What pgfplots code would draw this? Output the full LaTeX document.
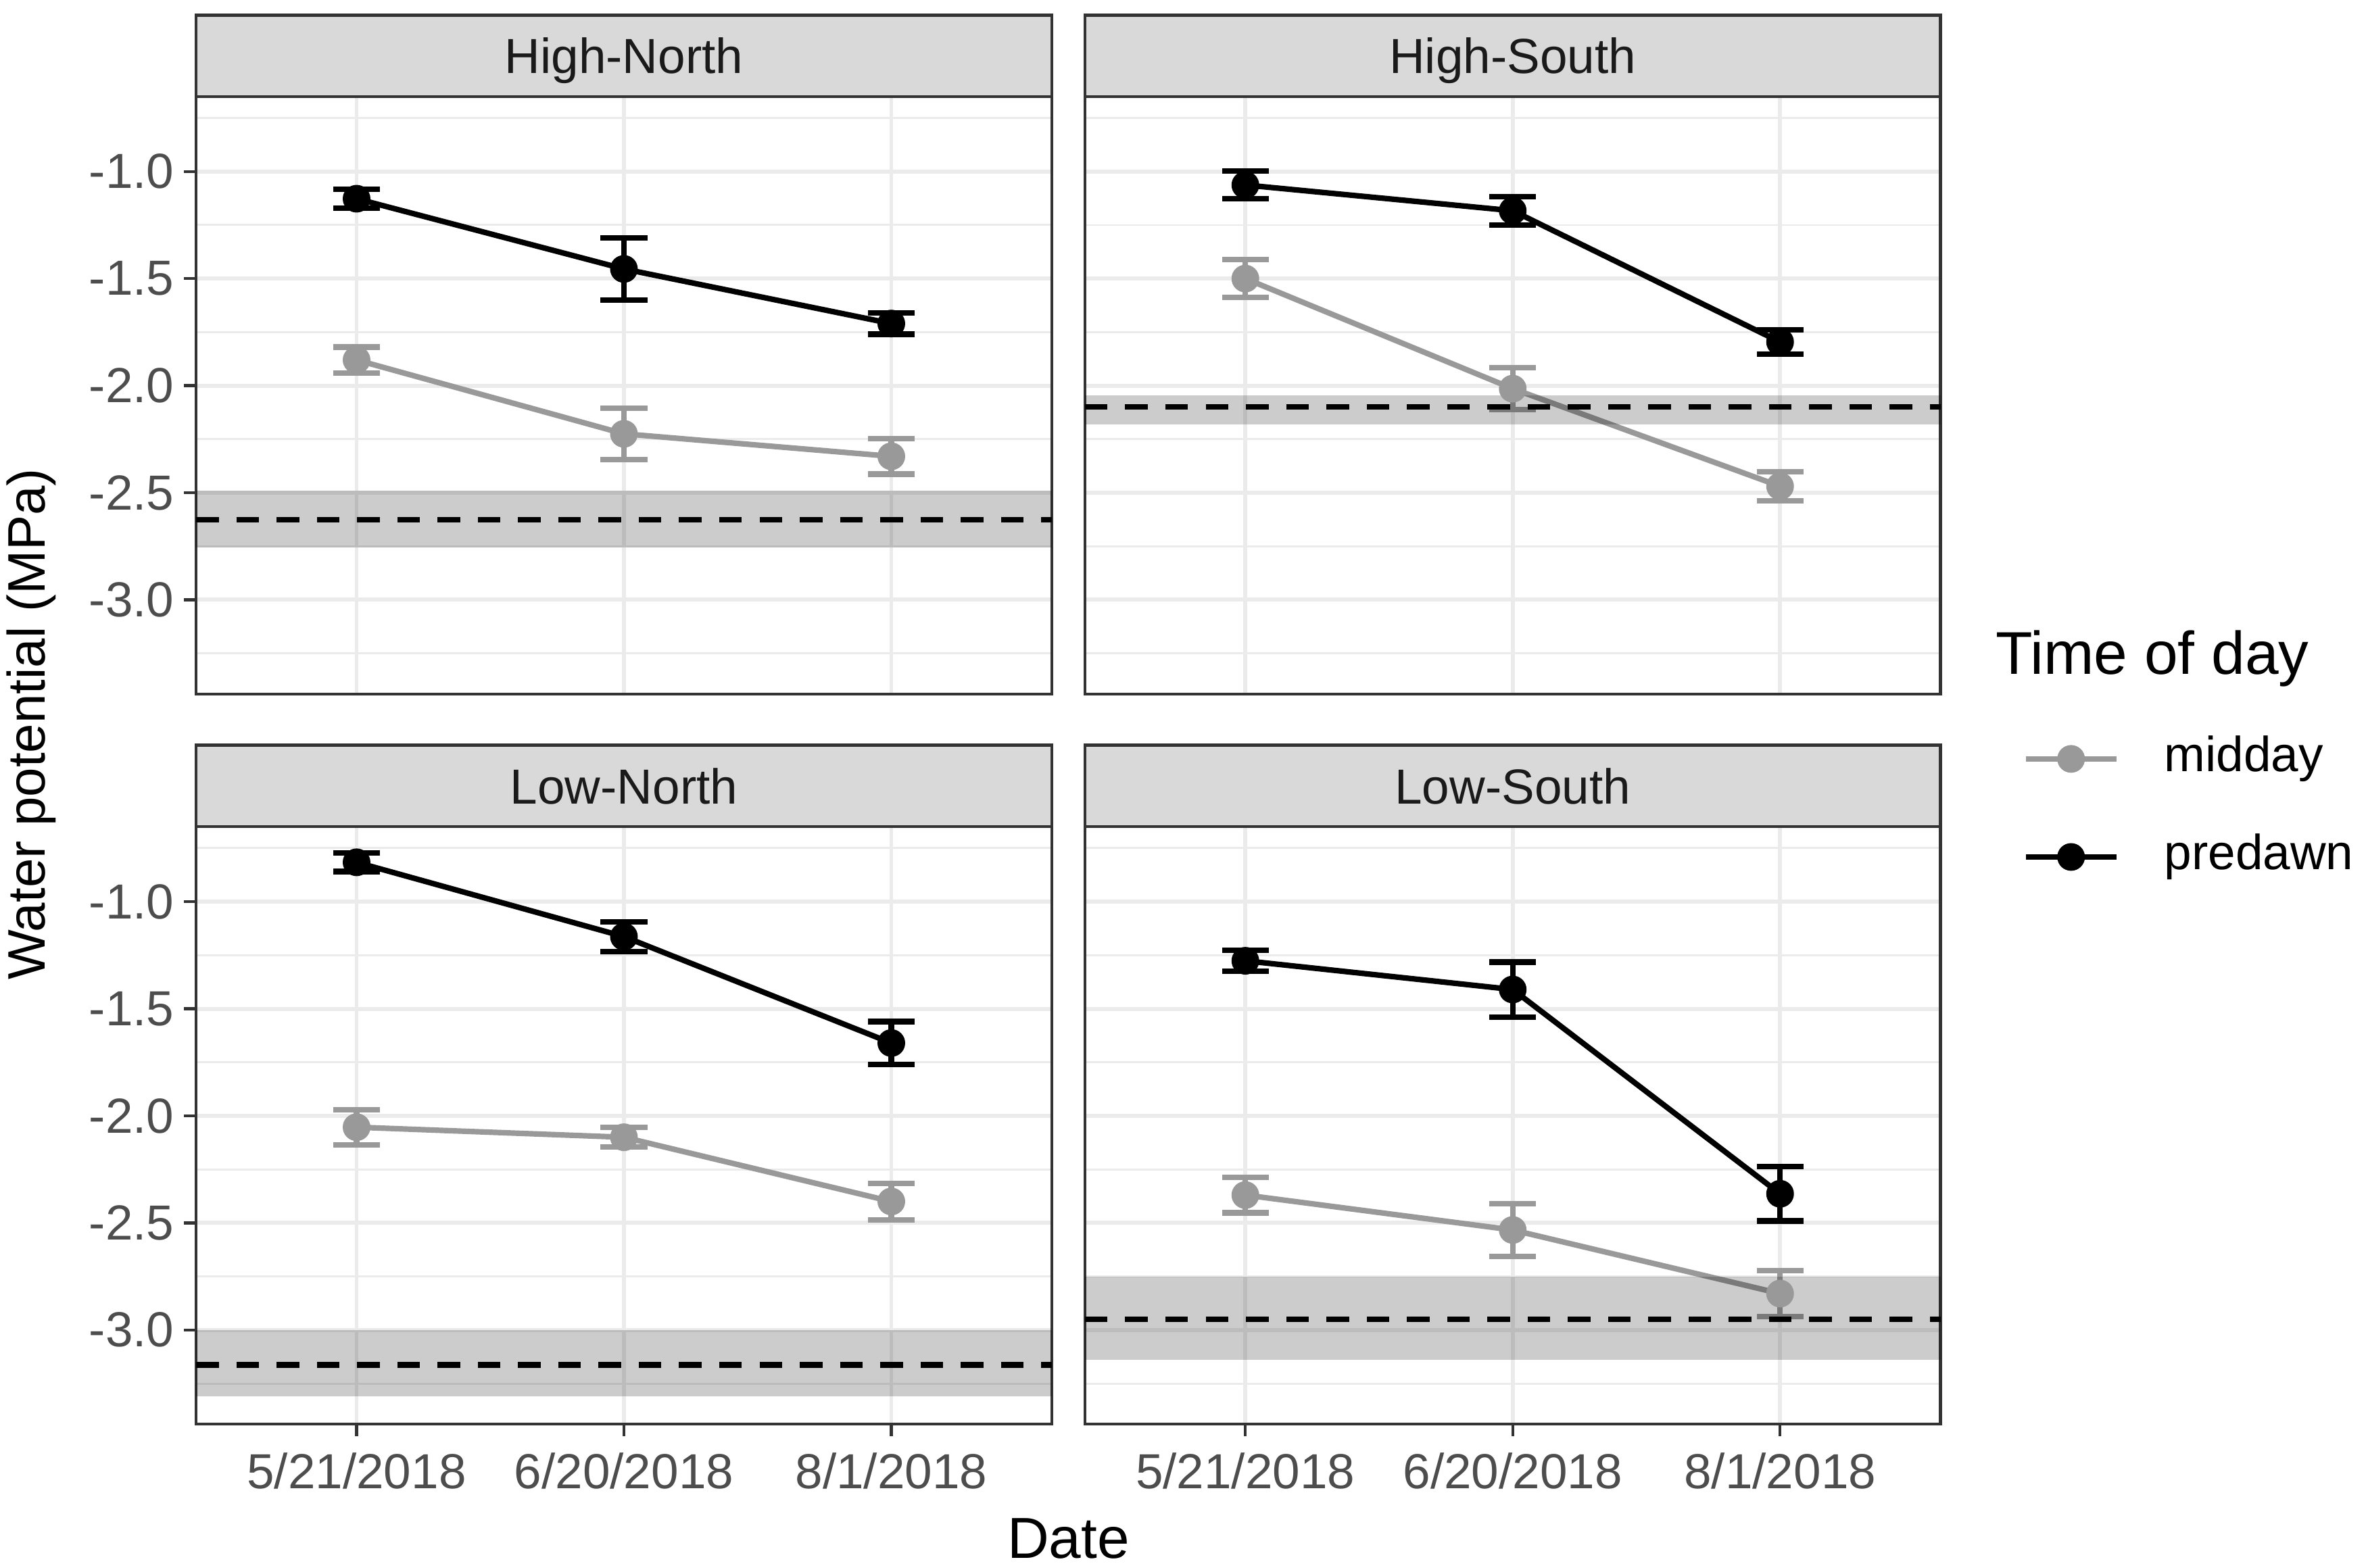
\documentclass[border=0pt]{standalone}
\usepackage{pgfplots}
\pgfplotsset{compat=1.18}
\usepackage{fontspec}
\setmainfont{Liberation Sans}
\definecolor{gridc}{HTML}{EBEBEB}
\definecolor{border}{HTML}{333333}
\definecolor{stripc}{HTML}{D9D9D9}
\definecolor{ticktxt}{HTML}{4D4D4D}
\definecolor{mid}{HTML}{999999}
\definecolor{striptxt}{HTML}{1A1A1A}

\pgfplotsset{
  panel/.style={
    scale only axis, width=170.1pt, height=118.8pt,
    xmin=0.4, xmax=3.6, ymin=-3.44, ymax=-0.65,
    xtick={1,2,3}, ytick={-3,-2.5,-2,-1.5,-1},
    minor ytick={-3.25,-2.75,-2.25,-1.75,-1.25,-0.75},
    grid=both, xtick pos=bottom, ytick pos=left,
    major grid style={color=gridc, line width=0.8pt},
    minor grid style={color=gridc, line width=0.4pt},
    axis line style={color=border, line width=0.6pt},
    tick align=outside, major tick length=2.4pt, minor tick length=0pt,
    xtick style={color=border, line width=0.6pt},
    ytick style={color=border, line width=0.6pt},
    xticklabels={}, yticklabels={},
    clip=false,
  },
  leftp/.style={
    yticklabels={-3.0,-2.5,-2.0,-1.5,-1.0},
    yticklabel style={anchor=east, inner sep=0pt, xshift=-1.8pt, font=\fontsize{9.8}{11}\selectfont, text=ticktxt},
  },
  rightp/.style={ymajorticks=false},
  topp/.style={xmajorticks=false},
  botp/.style={
    xticklabels={5/21/2018,6/20/2018,8/1/2018},
    xticklabel style={anchor=north, inner sep=0pt, yshift=-3.1pt, font=\fontsize{9.8}{11}\selectfont, text=ticktxt},
  },
  pd/.style={black, line width=1.1pt, mark=*, mark size=2.2pt, mark options={solid, fill=black},
    /pgfplots/error bars/y dir=both, /pgfplots/error bars/y explicit,
    /pgfplots/error bars/error mark=|,
    /pgfplots/error bars/error mark options={mark size=4.65pt, line width=1.1pt, black},
    /pgfplots/error bars/error bar style={line width=1.1pt, black}},
  md/.style={mid, line width=1.1pt, mark=*, mark size=2.2pt, mark options={solid, fill=mid},
    /pgfplots/error bars/y dir=both, /pgfplots/error bars/y explicit,
    /pgfplots/error bars/error mark=|,
    /pgfplots/error bars/error mark options={mark size=4.65pt, line width=1.1pt, mid},
    /pgfplots/error bars/error bar style={line width=1.1pt, mid}},
  band/.style={draw=none, fill=black, fill opacity=0.2, forget plot},
  hl/.style={black, line width=1.1pt, dash pattern=on 4.5pt off 3.5pt, forget plot},
}
\newcommand{\strip}[1]{%
  \draw[fill=stripc, draw=border, line width=0.6pt] (rel axis cs:0,1) rectangle ([yshift=16.2pt]rel axis cs:1,1);
  \node[anchor=base, inner sep=0pt, text=striptxt, font=\fontsize{9.8}{11}\selectfont] at ([yshift=4.6pt]rel axis cs:0.5,1) {#1};
}

\begin{document}
\begin{tikzpicture}
\useasboundingbox (0,0) rectangle (470.4pt,-311.7pt);

% High-North
\begin{axis}[panel, leftp, topp, at={(39pt,-138pt)}, anchor=south west]
\addplot[md, forget plot] coordinates {(1,-1.88) +- (0,0.06) (2,-2.225) +- (0,0.12) (3,-2.33) +- (0,0.083)};
\addplot[pd, forget plot] coordinates {(1,-1.127) +- (0,0.043) (2,-1.455) +- (0,0.145) (3,-1.71) +- (0,0.05)};
\addplot[band] coordinates {(0.4,-2.755) (3.6,-2.755) (3.6,-2.49) (0.4,-2.49)} -- cycle;
\addplot[hl] coordinates {(0.4,-2.625) (3.6,-2.625)};
\strip{High-North}
\end{axis}

% High-South
\begin{axis}[panel, rightp, topp, at={(215.7pt,-138pt)}, anchor=south west,
  legend style={at={(rel axis cs:1.0953,-0.1907)}, anchor=west, draw=none, fill=none, inner sep=0pt,
    row sep=10.5pt, column sep=9pt, font=\fontsize{9.8}{11}\selectfont,
    nodes={inner sep=0pt, text height=7pt, text depth=2pt}, cells={anchor=west}},
  legend image code/.code={\draw[mark repeat=2,mark phase=2] plot coordinates {(0pt,0pt) (9pt,0pt) (18pt,0pt)};}]
\addplot[md, forget plot] coordinates {(1,-1.50) +- (0,0.088) (2,-2.014) +- (0,0.098) (3,-2.47) +- (0,0.068)};
\addplot[pd, forget plot] coordinates {(1,-1.063) +- (0,0.065) (2,-1.183) +- (0,0.066) (3,-1.796) +- (0,0.058)};
\addplot[band] coordinates {(0.4,-2.18) (3.6,-2.18) (3.6,-2.045) (0.4,-2.045)} -- cycle;
\addplot[hl] coordinates {(0.4,-2.10) (3.6,-2.10)};
\strip{High-South}
\addlegendimage{mid, line width=1.1pt, mark=*, mark size=2.2pt, mark options={solid, fill=mid}}
\addlegendentry{midday}
\addlegendimage{black, line width=1.1pt, mark=*, mark size=2.2pt, mark options={solid, fill=black}}
\addlegendentry{predawn}
\end{axis}

% Low-North
\begin{axis}[panel, leftp, botp, at={(39pt,-283.2pt)}, anchor=south west]
\addplot[md, forget plot] coordinates {(1,-2.053) +- (0,0.082) (2,-2.10) +- (0,0.045) (3,-2.40) +- (0,0.085)};
\addplot[pd, forget plot] coordinates {(1,-0.816) +- (0,0.043) (2,-1.163) +- (0,0.07) (3,-1.66) +- (0,0.1)};
\addplot[band] coordinates {(0.4,-3.31) (3.6,-3.31) (3.6,-3.0) (0.4,-3.0)} -- cycle;
\addplot[hl] coordinates {(0.4,-3.163) (3.6,-3.163)};
\strip{Low-North}
\end{axis}

% Low-South
\begin{axis}[panel, rightp, botp, at={(215.7pt,-283.2pt)}, anchor=south west]
\addplot[md, forget plot] coordinates {(1,-2.37) +- (0,0.083) (2,-2.533) +- (0,0.123) (3,-2.83) +- (0,0.108)};
\addplot[pd, forget plot] coordinates {(1,-1.276) +- (0,0.048) (2,-1.41) +- (0,0.128) (3,-2.364) +- (0,0.127)};
\addplot[band] coordinates {(0.4,-3.14) (3.6,-3.14) (3.6,-2.75) (0.4,-2.75)} -- cycle;
\addplot[hl] coordinates {(0.4,-2.95) (3.6,-2.95)};
\strip{Low-South}
\end{axis}

\node[rotate=90, anchor=base, inner sep=0pt, font=\fontsize{10.5}{12}\selectfont] at (9pt,-144pt) {Water potential (MPa)};
\node[anchor=base, inner sep=0pt, font=\fontsize{11.5}{13}\selectfont] at (212.4pt,-309.9pt) {Date};
\node[anchor=base west, inner sep=0pt, font=\fontsize{12}{14}\selectfont] at (396.6pt,-134.1pt) {Time of day};
\end{tikzpicture}
\end{document}
